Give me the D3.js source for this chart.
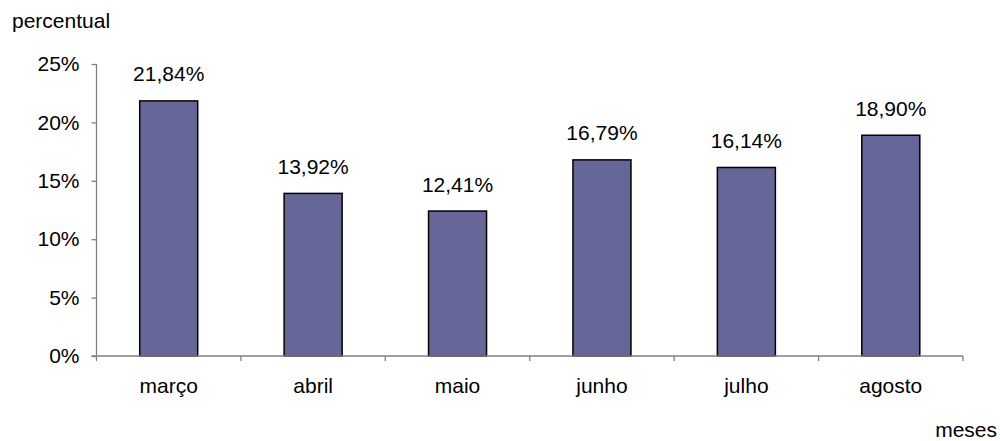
<!DOCTYPE html>
<html>
<head>
<meta charset="utf-8">
<script src="https://cdn.jsdelivr.net/npm/d3@7"></script>
<style>
  html, body { margin: 0; padding: 0; background: #fff; }
  svg { display: block; font-family: "Liberation Sans", Arial, sans-serif; }
</style>
</head>
<body>
<svg id="chart" width="1000" height="441"></svg>
<script>
// Monthly percentages
const months = ["março", "abril", "maio", "junho", "julho", "agosto"];
const values = [21.84, 13.92, 12.41, 16.79, 16.14, 18.90];
const yTicks = [0, 5, 10, 15, 20, 25];
const yTitle = "percentual";
const xTitle = "meses";

const svg = d3.select("#chart");
const plotLeft = 96.5, plotRight = 963, plotTop = 64, plotBottom = 356;
const fontSize = 21;

const x = d3.scaleBand().domain(months).range([plotLeft, plotRight]).paddingInner(0).paddingOuter(0);
const y = d3.scaleLinear().domain([0, 25]).range([plotBottom, plotTop]);
const barW = 58;
const fmt = v => v.toFixed(2).replace(".", ",") + "%";

// Axis lines and ticks
const axisColor = "#808080";
const yAxis = svg.append("g").attr("transform", `translate(${plotLeft},0)`)
  .call(d3.axisLeft(y).tickValues(yTicks).tickSize(5).tickPadding(12).tickFormat(d => d + "%"));
yAxis.select(".domain").attr("stroke", axisColor).attr("stroke-width", 1.3).attr("d", `M0,${plotTop}V${plotBottom}`);
yAxis.selectAll(".tick line").attr("stroke", axisColor).attr("stroke-width", 1.3);
yAxis.selectAll(".tick text").attr("font-size", fontSize).attr("fill", "#000")
  .attr("font-family", "Liberation Sans, Arial, sans-serif");

// Bars
svg.append("g").selectAll("rect").data(values).join("rect")
  .attr("x", (d, i) => x(months[i]) + x.bandwidth() / 2 - barW / 2)
  .attr("y", d => y(d))
  .attr("width", barW)
  .attr("height", d => y(0) - y(d))
  .attr("fill", "#666699")
  .attr("stroke", "#000")
  .attr("stroke-width", 1.5);

// X axis with ticks at band boundaries
const xAxis = svg.append("g").attr("transform", `translate(0,${plotBottom})`);
xAxis.append("line").attr("x1", plotLeft - 5).attr("x2", plotRight).attr("y1", 0).attr("y2", 0)
  .attr("stroke", axisColor).attr("stroke-width", 1.3);
const bounds = months.map(m => x(m)).concat([plotRight]);
xAxis.selectAll("line.tk").data(bounds).join("line").attr("class", "tk")
  .attr("x1", d => d).attr("x2", d => d).attr("y1", 0).attr("y2", 5)
  .attr("stroke", axisColor).attr("stroke-width", 1.3);
xAxis.selectAll("text").data(months).join("text")
  .attr("x", d => x(d) + x.bandwidth() / 2)
  .attr("y", 37)
  .attr("text-anchor", "middle")
  .attr("font-size", fontSize)
  .text(d => d);

// Value labels
svg.append("g").selectAll("text").data(values).join("text")
  .attr("x", (d, i) => x(months[i]) + x.bandwidth() / 2)
  .attr("y", d => y(d) - 19.5)
  .attr("text-anchor", "middle")
  .attr("font-size", fontSize)
  .text(d => fmt(d));

// Axis titles
svg.append("text").attr("x", 12).attr("y", 28).attr("font-size", fontSize).text(yTitle);
svg.append("text").attr("x", 997).attr("y", 437).attr("text-anchor", "end").attr("font-size", fontSize).text(xTitle);
</script>
</body>
</html>
